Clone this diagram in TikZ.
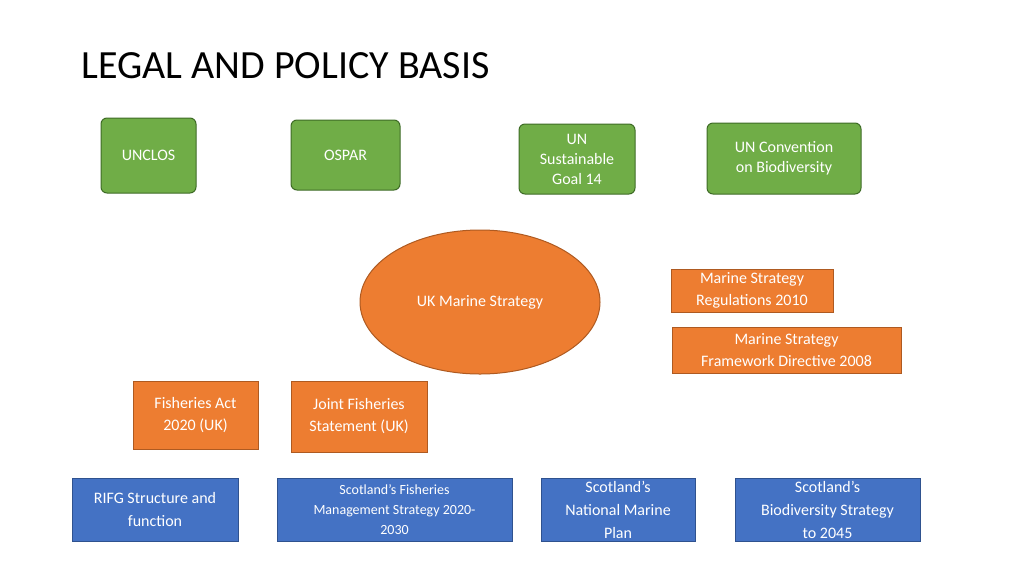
\documentclass[tikz,border=0pt]{standalone}
\usepackage{fontspec}
\setmainfont{Carlito}
\usetikzlibrary{shapes.geometric}
\definecolor{gfill}{HTML}{70AD47}\definecolor{gline}{HTML}{3E6B26}
\definecolor{ofill}{HTML}{ED7D31}\definecolor{oline}{HTML}{AE5A21}
\definecolor{bfill}{HTML}{4472C4}\definecolor{bline}{HTML}{2F528F}
\tikzset{
 gbox/.style={fill=gfill,draw=gline,line width=1pt,rounded corners=6pt,text=white,font=\fontsize{16}{20}\selectfont,align=center},
 obox/.style={fill=ofill,draw=oline,line width=1pt,text=white,font=\fontsize{16}{22}\selectfont,align=center},
 bbox/.style={fill=bfill,draw=bline,line width=1pt,text=white,font=\fontsize{16}{23}\selectfont,align=center},
}
\newcommand{\bx}[6]{\draw[#1] (#2,#3) rectangle (#4,#5) node[midway,#1,draw=none,fill=none] {#6};}
\begin{document}
\begin{tikzpicture}[x=1pt,y=-1pt]
\useasboundingbox (0,0) rectangle (1024,576);
\node[anchor=west,font=\fontsize{40}{44}\selectfont] (title) at (78,66) {LEGAL AND POLICY BASIS};
\bx{gbox}{101}{118}{196}{193}{UNCLOS}
\bx{gbox}{291}{120}{400}{190}{OSPAR}
\bx{gbox}{519}{124}{635}{194}{UN\\Sustainable\\Goal 14}
\bx{gbox}{707}{123}{861}{194}{UN Convention\\on Biodiversity}
\node[ellipse,fill=ofill,draw=oline,line width=1pt,minimum width=240pt,minimum height=144pt,text=white,font=\fontsize{16}{20}\selectfont] (uk) at (480,302) {UK Marine Strategy};
\bx{obox}{671}{269}{833}{312}{Marine Strategy\\Regulations 2010}
\bx{obox}{672}{327}{901}{373}{Marine Strategy\\Framework Directive 2008}
\bx{obox}{133}{381}{258}{449}{Fisheries Act\\2020 (UK)}
\bx{obox}{291}{381}{427}{452}{Joint Fisheries\\Statement (UK)}
\bx{bbox}{72}{478}{238}{541}{RIFG Structure and\\function}
\bx{bbox,font=\fontsize{14}{20}\selectfont}{277}{478}{512}{541}{Scotland’s Fisheries\\Management Strategy 2020-\\2030}
\bx{bbox}{541}{478}{695}{541}{Scotland’s\\National Marine\\Plan}
\bx{bbox}{735}{478}{920}{541}{Scotland’s\\Biodiversity Strategy\\to 2045}
\end{tikzpicture}
\end{document}
